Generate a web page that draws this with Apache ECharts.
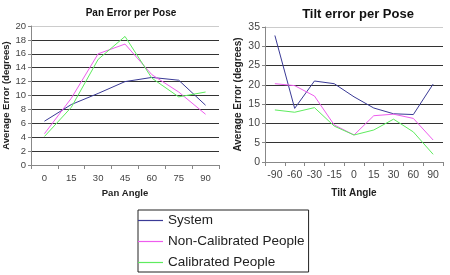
<!DOCTYPE html>
<html><head><meta charset="utf-8">
<script src="https://cdn.jsdelivr.net/npm/echarts@6/dist/echarts.min.js"></script>
<style>html,body{margin:0;padding:0;background:#fff}#c{width:450px;height:275px}</style>
</head><body><div id="c"></div>
<script>
const panAngles = ['0','15','30','45','60','75','90'];
const panSystem = [6.3, 8.7, 10.3, 12.0, 12.6, 12.2, 8.6];
const panNonCal = [4.5, 9.6, 16.0, 17.4, 13.0, 10.5, 7.3];
const panCal    = [4.1, 8.3, 15.2, 18.5, 12.5, 9.8, 10.5];

const tiltAngles = ['-90','-60','-30','-15','0','15','30','60','90'];
const tiltSystem = [32.8, 13.9, 21.0, 20.3, 16.9, 14.0, 12.5, 12.3, 20.2];
const tiltNonCal = [20.3, 19.8, 17.1, 9.6, 7.0, 12.0, 12.4, 11.3, 5.7];
const tiltCal    = [13.5, 12.9, 14.1, 9.3, 7.0, 8.3, 11.1, 7.8, 2.0];

const seriesNames = ['System','Non-Calibrated People','Calibrated People'];
const colors = ['#3a3a96','#ee5cee','#5eec5e'];

const font = 'Liberation Sans, Arial, sans-serif';
function xAx(idx, data, name, gap){
  return {type:'category', gridIndex:idx, data:data, boundaryGap:true,
    name:name, nameLocation:'middle', nameGap:gap,
    nameTextStyle:{fontFamily:font, fontWeight:'bold', fontSize:idx?10:9.5, color:'#222'},
    axisLine:{lineStyle:{color:'#888'}}, axisTick:{show:true, lineStyle:{color:'#888'}, length:4},
    axisLabel:{fontFamily:font, fontSize:idx?10.5:9.5, color:'#444', margin:8}};
}
function yAx(idx, max, interval, gap, nLines){
  const cols = [];
  for (let i = 0; i < nLines; i++) cols.push(i === nLines - 1 ? '#ccc' : '#333');
  return {type:'value', gridIndex:idx, min:0, max:max, interval:interval,
    name:'Average Error (degrees)', nameLocation:'middle', nameGap:gap,
    nameTextStyle:{fontFamily:font, fontWeight:'bold', fontSize:idx?10:9.5, color:'#222'},
    axisLine:{show:true, lineStyle:{color:'#888'}}, axisTick:{show:true, length:3, lineStyle:{color:'#888'}},
    splitLine:{show:true, lineStyle:{color:cols, width:1}},
    axisLabel:{fontFamily:font, fontSize:idx?10.5:9.5, color:'#444', margin:5}};
}
function ln(name, xi, data, c){
  return {name:name, type:'line', xAxisIndex:xi, yAxisIndex:xi, data:data, symbol:'none',
    lineStyle:{color:c, width:1}, itemStyle:{color:c}};
}
const chart = echarts.init(document.getElementById('c'), null, {renderer:'canvas'});
chart.setOption({
  backgroundColor:'#fff',
  animation:false,
  title:[
    {text:'Pan Error per Pose', left:126, top:3, textAlign:'center',
     textStyle:{fontFamily:font, fontWeight:'bold', fontSize:10, color:'#111'}},
    {text:'Tilt error per Pose', left:353, top:3, textAlign:'center',
     textStyle:{fontFamily:font, fontWeight:'bold', fontSize:13, color:'#111'}}
  ],
  grid:[
    {left:31, right:231, top:26, bottom:110},
    {left:265, right:7, top:27, bottom:113}
  ],
  xAxis:[xAx(0, panAngles, 'Pan Angle', 23), xAx(1, tiltAngles, 'Tilt Angle', 26)],
  yAxis:[yAx(0, 20, 2, 19, 11), yAx(1, 35, 5, 22, 8)],
  legend:{orient:'vertical', left:138, top:210, data:seriesNames,
    icon:'rect', itemWidth:25, itemHeight:1.2, itemGap:6,
    padding:[3,4,2,0], borderColor:'#222', borderWidth:1,
    textStyle:{fontFamily:font, fontSize:13.5, color:'#222', lineHeight:15}},
  series:[
    ln(seriesNames[0],0,panSystem,colors[0]),
    ln(seriesNames[1],0,panNonCal,colors[1]),
    ln(seriesNames[2],0,panCal,colors[2]),
    ln(seriesNames[0],1,tiltSystem,colors[0]),
    ln(seriesNames[1],1,tiltNonCal,colors[1]),
    ln(seriesNames[2],1,tiltCal,colors[2])
  ]
});
</script></body></html>
